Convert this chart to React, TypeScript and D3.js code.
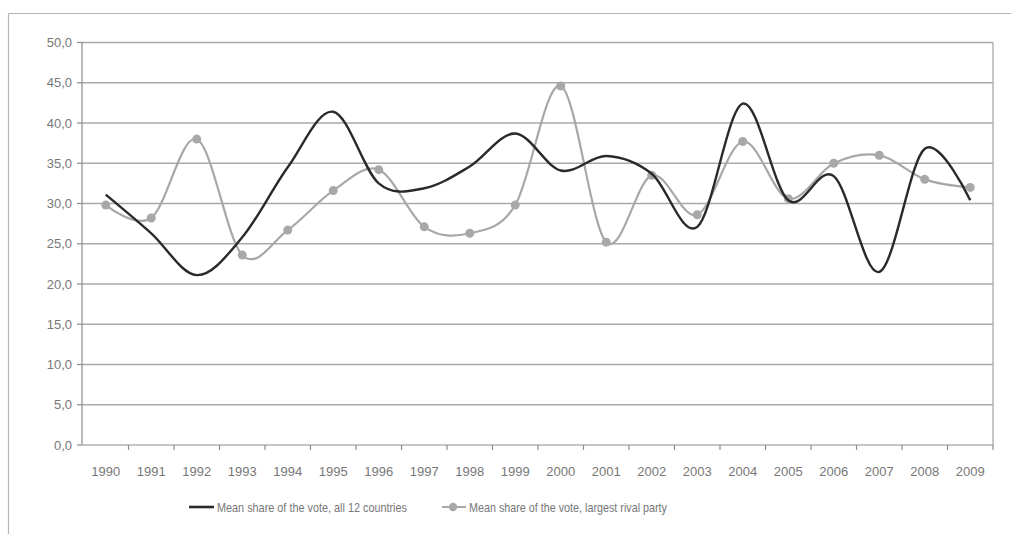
import React from 'react';
import * as d3 from 'd3';

const years = ['1990','1991','1992','1993','1994','1995','1996','1997','1998','1999','2000','2001','2002','2003','2004','2005','2006','2007','2008','2009'];
const allCountries = [31.1, 26.3, 21.1, 25.8, 34.5, 41.4, 32.5, 31.9, 34.6, 38.7, 34.1, 35.9, 33.7, 27.1, 42.4, 30.4, 33.4, 21.5, 36.8, 30.4];
const rivalParty = [29.8, 28.2, 38.0, 23.6, 26.7, 31.6, 34.2, 27.1, 26.3, 29.8, 44.6, 25.2, 33.5, 28.6, 37.7, 30.6, 35.0, 36.0, 33.0, 32.0];
const yTicks = [0, 5, 10, 15, 20, 25, 30, 35, 40, 45, 50];
const seriesNames = ['Mean share of the vote, all 12 countries', 'Mean share of the vote, largest rival party'];

const W = 1011, H = 534;
const left = 83, right = 993, top = 42.5, bottom = 445;
const font = '"Liberation Sans", Arial, sans-serif';

export default function App() {
  const x = d3.scaleBand<string>().domain(years).range([left, right]);
  const y = d3.scaleLinear().domain([0, 50]).range([bottom, top]);
  const cx = (i: number) => (x(years[i]) as number) + x.bandwidth() / 2;
  const line = d3.line<number>().x((_, i) => cx(i)).y(d => y(d)).curve(d3.curveCardinal.tension(0));
  const fmt = (v: number) => v.toFixed(1).replace('.', ',');

  return (
    <svg width={W} height={H} style={{ position: 'absolute', left: 0, top: 0, background: '#fff' }}>
      <line x1={8.5} y1={13.5} x2={W} y2={13.5} stroke="#b4b4b4" strokeWidth={1.2} />
      <line x1={8.5} y1={13.5} x2={8.5} y2={H} stroke="#b4b4b4" strokeWidth={1.2} />
      {yTicks.filter(t => t > 0).map(t => (
        <line key={t} x1={left - 1} x2={right} y1={y(t)} y2={y(t)} stroke="#a9a9a9" strokeWidth={1.3} />
      ))}
      <line x1={right} x2={right} y1={top} y2={bottom} stroke="#a9a9a9" strokeWidth={1.3} />
      <line x1={left - 1} x2={left - 1} y1={top} y2={bottom} stroke="#8c8c8c" strokeWidth={1.2} />
      <line x1={left - 1} x2={right} y1={bottom} y2={bottom} stroke="#8c8c8c" strokeWidth={1.2} />
      {yTicks.map(t => (
        <g key={'yt' + t}>
          <line x1={left - 6} x2={left - 1} y1={y(t)} y2={y(t)} stroke="#8c8c8c" strokeWidth={1.2} />
          <text x={72} y={y(t)} dy="0.36em" textAnchor="end" fontFamily={font} fontSize={13} fill="#777">{fmt(t)}</text>
        </g>
      ))}
      {years.map((yr, i) => (
        <g key={yr}>
          <line x1={(x(yr) as number) + x.bandwidth()} x2={(x(yr) as number) + x.bandwidth()} y1={bottom} y2={bottom + 5} stroke="#8c8c8c" strokeWidth={1.2} />
          <text x={cx(i)} y={471} dy="0.36em" textAnchor="middle" fontFamily={font} fontSize={13} fill="#777">{yr}</text>
        </g>
      ))}
      <path d={line(rivalParty) || ''} fill="none" stroke="#a8a8a8" strokeWidth={2.2} />
      {rivalParty.map((v, i) => (
        <circle key={'m' + i} cx={cx(i)} cy={y(v)} r={4.5} fill="#a8a8a8" />
      ))}
      <path d={line(allCountries) || ''} fill="none" stroke="#2a2a2a" strokeWidth={2.4} />
      <line x1={189} x2={214} y1={507} y2={507} stroke="#2a2a2a" strokeWidth={2.6} />
      <text x={217} y={507} dy="0.36em" fontFamily={font} fontSize={13} fill="#777" textLength={190} lengthAdjust="spacingAndGlyphs">{seriesNames[0]}</text>
      <line x1={442} x2={466} y1={507} y2={507} stroke="#a8a8a8" strokeWidth={2} />
      <circle cx={453} cy={507} r={4.2} fill="#a8a8a8" />
      <text x={469} y={507} dy="0.36em" fontFamily={font} fontSize={13} fill="#777" textLength={198} lengthAdjust="spacingAndGlyphs">{seriesNames[1]}</text>
    </svg>
  );
}
